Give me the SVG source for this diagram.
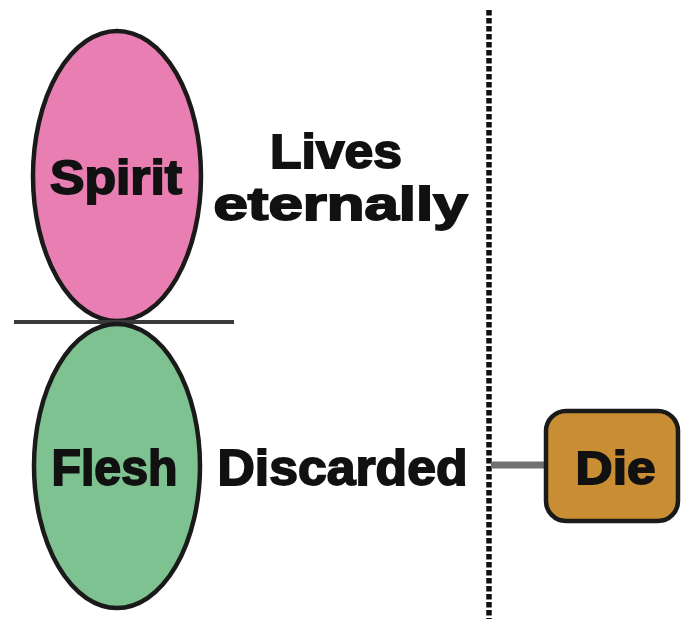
<svg xmlns="http://www.w3.org/2000/svg" width="681" height="619" viewBox="0 0 681 619">
<style>
.lbl{font-family:"Liberation Sans",Arial,sans-serif;font-weight:bold;fill:#111;stroke:#111;stroke-width:1.8;}
.shape{stroke:#1a1a1a;stroke-width:4.5;}
</style>
<rect width="681" height="619" fill="#fff"/>
<g id="divider">
<line x1="489" y1="10" x2="489" y2="619" stroke="#111" stroke-width="5.5" stroke-dasharray="5.5 2.5"/>
</g>
<g id="connectors">
<line x1="491" y1="465" x2="548" y2="465" stroke="#707070" stroke-width="7"/>
</g>
<g id="spirit">
<ellipse class="shape" cx="117" cy="176" rx="84" ry="145" fill="#E97EB2"/>
<text class="lbl" x="116" y="194" font-size="48" text-anchor="middle" textLength="132" lengthAdjust="spacingAndGlyphs">Spirit</text>
</g>
<g id="separator">
<line x1="14" y1="322" x2="234" y2="322" stroke="#3a3a3a" stroke-width="4"/>
</g>
<g id="flesh">
<ellipse class="shape" cx="117" cy="466" rx="83" ry="142" fill="#7DC290"/>
<text class="lbl" x="114.5" y="485" font-size="50" text-anchor="middle" textLength="126" lengthAdjust="spacingAndGlyphs">Flesh</text>
</g>
<g id="lives-label">
<text class="lbl" x="336" y="168" font-size="48" text-anchor="middle" textLength="132" lengthAdjust="spacingAndGlyphs">Lives</text>
<text class="lbl" x="340.5" y="220" font-size="46" text-anchor="middle" textLength="254" lengthAdjust="spacingAndGlyphs">eternally</text>
</g>
<g id="discarded-label">
<text class="lbl" x="342.5" y="485" font-size="50" text-anchor="middle" textLength="250" lengthAdjust="spacingAndGlyphs">Discarded</text>
</g>
<g id="die">
<rect class="shape" x="546" y="411" width="132" height="110" rx="20" fill="#C98E34"/>
<text class="lbl" x="615.5" y="484" font-size="47" text-anchor="middle" textLength="80" lengthAdjust="spacingAndGlyphs">Die</text>
</g>
</svg>
